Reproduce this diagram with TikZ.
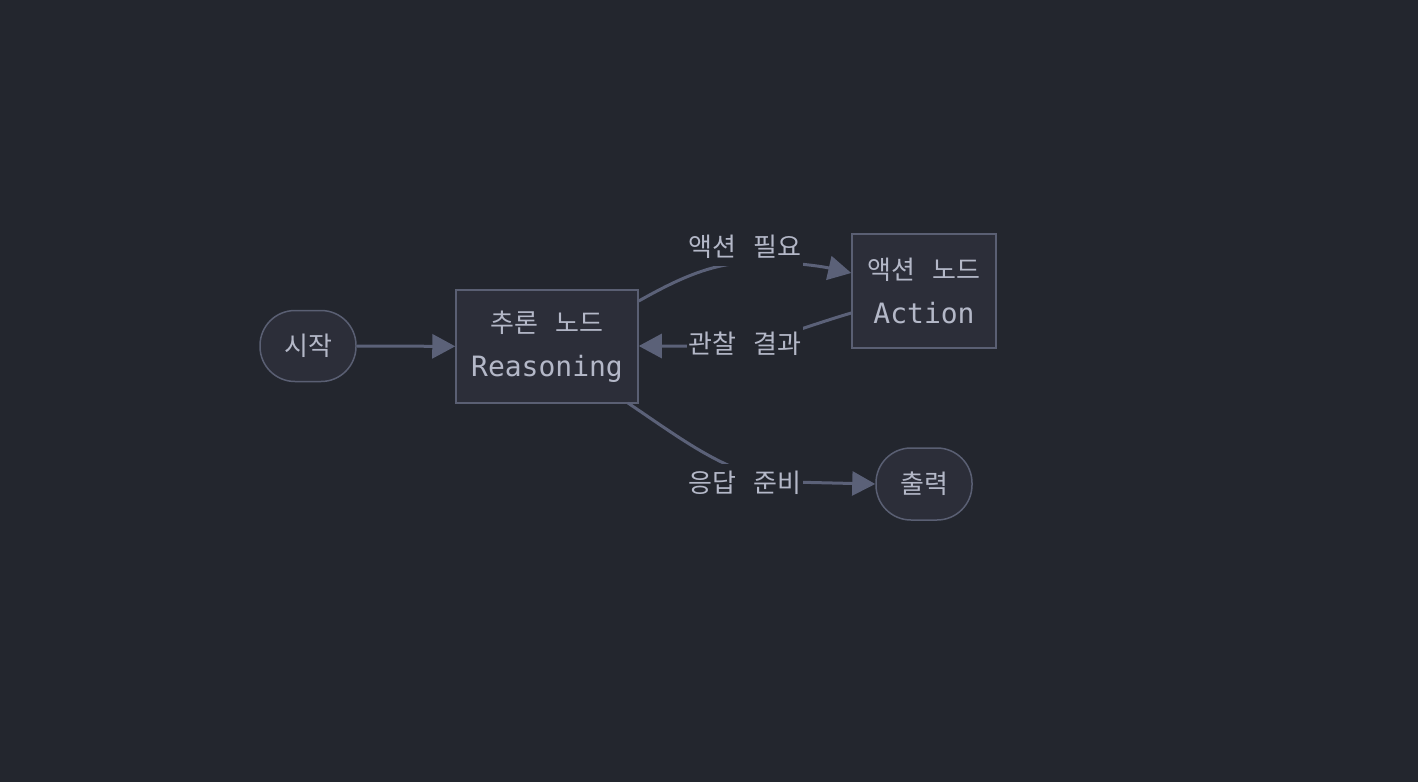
\documentclass[tikz,border=0pt]{standalone}
\usepackage{fontspec}
\setmainfont{DejaVu Sans Mono}
\newfontfamily\kr{Noto Sans CJK KR}
\usetikzlibrary{arrows.meta}
\definecolor{bg}{HTML}{23262E}
\definecolor{nodefill}{HTML}{2C2E39}
\definecolor{nodeline}{HTML}{5A5F73}
\definecolor{edgecol}{HTML}{5B6178}
\definecolor{txt}{HTML}{B4B8C8}
\newcommand{\K}[1]{{\kr\fontsize{26}{44}\selectfont #1}}
\tikzset{
  box/.style={draw=nodeline, fill=nodefill, line width=1.5pt, text=txt, align=center, inner sep=0pt,
    font=\fontsize{28}{44}\selectfont},
  stadium/.style={box, rounded corners=35pt},
  conn/.style={draw=edgecol, line width=3pt, -{Triangle[length=23pt,width=24pt]}},
  elabel/.style={fill=bg, text=txt, inner sep=0pt, minimum height=38pt, minimum width=116pt,
    font=\fontsize{28}{44}\selectfont}
}
\begin{document}
\begin{tikzpicture}[x=1pt,y=-1pt]
\fill[bg] (0,0) rectangle (1418,782);
\useasboundingbox (0,0) rectangle (1418,782);
\node[stadium, minimum width=96pt, minimum height=71pt] (start) at (308,346) {\K{시작}};
\node[box, minimum width=182pt, minimum height=113pt] (reason) at (547,346.5) {\K{추론} \K{노드}\\Reasoning};
\node[box, minimum width=144pt, minimum height=114pt] (action) at (924,291) {\K{액션} \K{노드}\\Action};
\node[stadium, minimum width=96pt, minimum height=72pt] (out) at (924,484) {\K{출력}};
\coordinate (l1) at (760,262);
\coordinate (l2) at (720,346);
\coordinate (l3) at (790,482);
\draw[conn] (start) -- (reason);
\draw[conn] (reason.east |- 0,301) .. controls (690,272) and (720,262) .. (l1) .. controls (790,262) and (820,266) .. (action.west |- 0,273);
\draw[conn] (action.west |- 0,313) .. controls (800,328) and (760,346) .. (l2) -- (reason.east |- 0,346);
\draw[conn] (628,403) .. controls (690,445) and (730,476) .. (l3) -- (out.west);
\node[elabel] (e1) at (745,247) {\K{액션} \K{필요}};
\node[elabel] (e2) at (745,344) {\K{관찰} \K{결과}};
\node[elabel] (e3) at (745,483) {\K{응답} \K{준비}};
\end{tikzpicture}
\end{document}
